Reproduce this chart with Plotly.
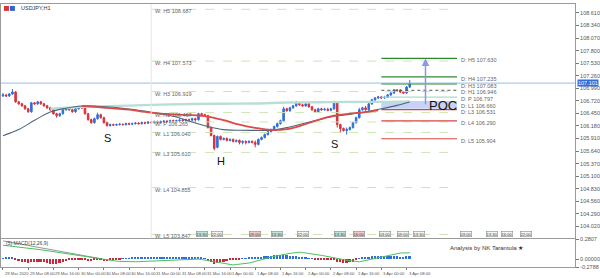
import plotly.graph_objects as go

# ---------------- data ----------------
candle_idx = list(range(130))
open_ = [106.825, 106.846, 106.825, 106.867, 106.910, 106.697, 106.655, 106.612, 106.548, 106.484,
         106.676, 106.655, 106.697, 106.655, 106.612, 106.569, 106.527, 106.442, 106.399, 106.442,
         106.527, 106.569, 106.527, 106.484, 106.548, 106.591, 106.569, 106.442, 106.314, 106.250,
         106.336, 106.421, 106.357, 106.250, 106.187, 106.208, 106.197, 106.208, 106.218, 106.208,
         106.229, 106.218, 106.229, 106.240, 106.229, 106.250, 106.240, 106.261, 106.250, 106.272,
         106.250, 106.272, 106.282, 106.272, 106.293, 106.282, 106.293, 106.304, 106.293, 106.314,
         106.304, 106.336, 106.314, 106.442, 106.421, 106.399, 106.144, 105.974, 105.719, 105.953,
         105.889, 105.910, 105.868, 105.889, 105.847, 105.868, 105.825, 105.847, 105.825, 105.847,
         105.825, 105.783, 105.889, 105.932, 105.995, 106.059, 106.102, 106.166, 106.229, 106.293,
         106.548, 106.506, 106.569, 106.612, 106.676, 106.633, 106.612, 106.655, 106.591, 106.527,
         106.484, 106.548, 106.527, 106.538, 106.516, 106.548, 106.676, 106.208, 106.123, 106.080,
         106.102, 106.144, 106.250, 106.357, 106.527, 106.569, 106.527, 106.655, 106.740, 106.782,
         106.803, 106.782, 106.793, 106.846, 106.888, 106.952, 106.941, 106.910, 106.888, 107.016]
high = [106.888, 106.867, 106.888, 106.973, 106.931, 106.718, 106.676, 106.633, 106.569, 106.697,
        106.697, 106.718, 106.718, 106.676, 106.633, 106.591, 106.548, 106.463, 106.463, 106.548,
        106.591, 106.591, 106.548, 106.569, 106.612, 106.612, 106.591, 106.463, 106.336, 106.357,
        106.463, 106.442, 106.378, 106.272, 106.229, 106.229, 106.229, 106.240, 106.229, 106.250,
        106.250, 106.250, 106.261, 106.261, 106.272, 106.272, 106.282, 106.282, 106.293, 106.293,
        106.293, 106.304, 106.304, 106.314, 106.314, 106.314, 106.336, 106.336, 106.336, 106.336,
        106.357, 106.357, 106.463, 106.463, 106.442, 106.421, 106.166, 105.995, 105.974, 105.974,
        105.932, 105.932, 105.910, 105.910, 105.889, 105.889, 105.868, 105.868, 105.868, 105.868,
        105.868, 105.910, 105.953, 106.016, 106.080, 106.123, 106.187, 106.250, 106.314, 106.591,
        106.569, 106.591, 106.633, 106.718, 106.697, 106.655, 106.676, 106.676, 106.612, 106.548,
        106.569, 106.569, 106.569, 106.569, 106.569, 106.718, 106.697, 106.229, 106.144, 106.144,
        106.166, 106.272, 106.378, 106.569, 106.591, 106.612, 106.676, 106.761, 106.803, 106.825,
        106.825, 106.825, 106.867, 106.910, 106.973, 106.973, 106.973, 106.931, 107.037, 107.165]
low = [106.803, 106.803, 106.803, 106.846, 106.676, 106.633, 106.591, 106.527, 106.463, 106.463,
       106.633, 106.633, 106.633, 106.591, 106.548, 106.506, 106.421, 106.357, 106.378, 106.421,
       106.506, 106.506, 106.463, 106.463, 106.527, 106.548, 106.421, 106.293, 106.229, 106.229,
       106.314, 106.336, 106.229, 106.166, 106.166, 106.187, 106.187, 106.187, 106.187, 106.187,
       106.197, 106.197, 106.208, 106.208, 106.208, 106.218, 106.218, 106.229, 106.229, 106.229,
       106.229, 106.250, 106.250, 106.250, 106.261, 106.261, 106.272, 106.272, 106.272, 106.282,
       106.282, 106.250, 106.293, 106.399, 106.378, 106.123, 105.953, 105.655, 105.698, 105.868,
       105.868, 105.847, 105.847, 105.825, 105.825, 105.783, 105.783, 105.783, 105.804, 105.804,
       105.719, 105.762, 105.868, 105.910, 105.974, 106.038, 106.080, 106.144, 106.208, 106.272,
       106.484, 106.484, 106.548, 106.591, 106.612, 106.591, 106.591, 106.569, 106.506, 106.463,
       106.463, 106.506, 106.506, 106.495, 106.495, 106.527, 106.144, 106.038, 106.059, 105.995,
       106.080, 106.123, 106.229, 106.336, 106.506, 106.506, 106.506, 106.633, 106.718, 106.761,
       106.761, 106.761, 106.782, 106.825, 106.867, 106.910, 106.888, 106.867, 106.867, 106.995]
close = [106.846, 106.825, 106.867, 106.910, 106.697, 106.655, 106.612, 106.548, 106.484, 106.676,
         106.655, 106.697, 106.655, 106.612, 106.569, 106.527, 106.442, 106.399, 106.442, 106.527,
         106.569, 106.527, 106.484, 106.548, 106.591, 106.569, 106.442, 106.314, 106.250, 106.336,
         106.421, 106.357, 106.250, 106.187, 106.208, 106.197, 106.208, 106.218, 106.208, 106.229,
         106.218, 106.229, 106.240, 106.229, 106.250, 106.240, 106.261, 106.250, 106.272, 106.250,
         106.272, 106.282, 106.272, 106.293, 106.282, 106.293, 106.304, 106.293, 106.314, 106.304,
         106.336, 106.314, 106.442, 106.421, 106.399, 106.144, 105.974, 105.698, 105.953, 105.889,
         105.910, 105.868, 105.889, 105.847, 105.868, 105.825, 105.847, 105.825, 105.847, 105.825,
         105.783, 105.889, 105.932, 105.995, 106.059, 106.102, 106.166, 106.229, 106.293, 106.548,
         106.506, 106.569, 106.612, 106.676, 106.633, 106.612, 106.655, 106.591, 106.527, 106.484,
         106.548, 106.527, 106.538, 106.516, 106.548, 106.676, 106.208, 106.123, 106.080, 106.102,
         106.144, 106.250, 106.357, 106.527, 106.569, 106.527, 106.655, 106.740, 106.782, 106.803,
         106.782, 106.793, 106.846, 106.888, 106.952, 106.941, 106.910, 106.888, 107.016, 107.101]

# moving averages (read at selected bars)
ma_slow_idx = [0, 5, 10, 15, 20, 25, 30, 35, 40, 45, 50, 55, 60, 65, 70, 75, 80, 85, 90, 95,
               100, 105, 110, 115, 120, 125, 129]
ma_slow = [105.970, 106.102, 106.300, 106.480, 106.561, 106.608, 106.603, 106.580, 106.544, 106.499,
           106.438, 106.372, 106.263, 106.168, 106.100, 106.087, 106.085, 106.089, 106.144, 106.227,
           106.308, 106.387, 106.429, 106.484, 106.548, 106.622, 106.695]
ma_red_idx = [25, 30, 35, 40, 45, 50, 55, 60, 65, 70, 75, 80, 85, 90, 95, 100, 105, 110, 115, 119]
ma_red = [106.610, 106.584, 106.556, 106.529, 106.480, 106.444, 106.421, 106.412, 106.380, 106.304,
          106.208, 106.140, 106.093, 106.110, 106.197, 106.310, 106.399, 106.442, 106.478, 106.516]
ma_teal_idx = [15, 20, 25, 30, 40, 50, 60, 70, 80, 90, 100, 110, 120, 129]
ma_teal = [106.548, 106.569, 106.589, 106.600, 106.617, 106.638, 106.650, 106.657, 106.663, 106.682,
           106.689, 106.697, 106.697, 106.707]

# MACD pane
macd_hist = [0.01, 0.02, 0.02, 0.02, -0.02, -0.03, -0.04, -0.05, -0.06, -0.05,
             -0.05, -0.04, -0.04, -0.05, -0.06, -0.07, -0.07, -0.07, -0.06, -0.04,
             -0.03, -0.02, -0.02, -0.01, -0.01, -0.01, -0.02, -0.03, -0.03, -0.02,
             -0.02, -0.02, -0.03, -0.03, -0.02, -0.01, -0.01, -0.005, 0.005, 0.01,
             0.01, 0.015, 0.015, 0.02, 0.02, 0.02, 0.025, 0.025, 0.025, 0.03,
             0.03, 0.03, 0.03, 0.03, 0.03, 0.03, 0.03, 0.025, 0.025, 0.02,
             0.02, 0.02, 0.03, 0.02, 0.01, -0.03, -0.05, -0.07, -0.06, -0.05,
             -0.04, -0.03, -0.02, -0.015, -0.01, -0.005, 0.005, 0.01, 0.015, 0.02,
             0.02, 0.025, 0.03, 0.035, 0.04, 0.045, 0.05, 0.05, 0.055, 0.06,
             0.05, 0.045, 0.04, 0.035, 0.03, 0.02, 0.015, 0.01, 0.005, -0.005,
             -0.005, -0.01, -0.01, -0.01, -0.01, -0.005, -0.04, -0.05, -0.06, -0.06,
             -0.05, -0.04, -0.02, 0.01, 0.02, 0.025, 0.03, 0.035, 0.04, 0.04,
             0.04, 0.035, 0.035, 0.04, 0.04, 0.035, 0.03, 0.03, 0.035, 0.04]
macd_signal = [0.197, 0.192, 0.188, 0.185, 0.182, 0.177, 0.171, 0.166, 0.159, 0.153,
               0.146, 0.140, 0.133, 0.126, 0.119, 0.112, 0.107, 0.100, 0.093, 0.087,
               0.080, 0.073, 0.066, 0.055, 0.051, 0.042, 0.034, 0.027, 0.020, 0.013,
               0.006, -0.001, -0.007, -0.013, -0.018, -0.024, -0.029, -0.032, -0.035, -0.038,
               -0.041, -0.041, -0.038, -0.036, -0.034, -0.032, -0.029, -0.027, -0.025, -0.022,
               -0.021, -0.018, -0.015, -0.014, -0.011, -0.010, -0.007, -0.004, -0.003, 0.000,
               0.000, 0.000, 0.000, -0.006, -0.014, -0.024, -0.032, -0.041, -0.049, -0.056,
               -0.065, -0.072, -0.079, -0.083, -0.077, -0.073, -0.067, -0.062, -0.056, -0.045,
               -0.031, -0.018, -0.006, 0.008, 0.020, 0.029, 0.039, 0.049, 0.059, 0.068,
               0.076, 0.081, 0.087, 0.093, 0.098, 0.093, 0.088, 0.084, 0.076, 0.069,
               0.060, 0.053, 0.045, 0.038, 0.029, 0.021, 0.011, 0.003, -0.007, -0.017,
               -0.024, -0.031, -0.036, -0.039, -0.029, -0.020, -0.008, 0.001, 0.010, 0.020,
               0.028, 0.038, 0.049, 0.059, 0.070, 0.081, 0.086, 0.087, 0.088, 0.090]
macd_main = [0.258, 0.250, 0.241, 0.233, 0.225, 0.216, 0.208, 0.199, 0.192, 0.184,
             0.175, 0.167, 0.159, 0.150, 0.143, 0.135, 0.126, 0.118, 0.109, 0.102,
             0.094, 0.086, 0.077, 0.070, 0.062, 0.053, 0.045, 0.037, 0.030, 0.021,
             0.013, 0.006]
macd_max, macd_min = 0.2807, -0.1123
macd_tick_text = ["0.2807", "0.00000", "-0.2788"]

# pivot levels
week_start, day_start, level_end = 47, 120, 144
w_names = ["W: H5", "W: H4", "W: H3", "W: H1", "W: P", "W: L1", "W: L3", "W: L4", "W: L5"]
w_levels = [108.687, 107.573, 106.919, 106.467, 106.265, 106.040, 105.610, 104.855, 103.847]
d_names = ["D: H5", "D: H4", "D: H3", "D: H1", "D: P", "D: L1", "D: L3", "D: L4", "D: L5"]
d_levels = [107.630, 107.235, 107.083, 106.946, 106.797, 106.660, 106.531, 106.290, 105.904]
d_kind = ["up", "up", "up", "dot", "piv", "none", "dn", "dn", "dn"]
poc_top, poc_bottom, poc_level = 106.718, 106.548, 106.612
poc_idx = 134

pattern_idx = [33, 69, 105]
pattern_text = ["S", "H", "S"]

# session time boxes along the bottom of the price pane
session_idx = [63, 68, 80, 87, 95, 107, 113, 121, 127, 132, 147, 155, 160, 166]
session_text = ["13:30", "22:00", "09:00", "13:30", "22:00", "13:30", "16:00", "03:00",
                "09:00", "13:30", "03:00", "13:30", "16:00", "22:00"]
session_kind = ["t", "n", "p", "t", "n", "t", "p", "n", "n", "n", "n", "n", "n", "n"]

price_ticks = [104.020, 104.290, 104.560, 104.830, 105.100, 105.370, 105.640, 105.910, 106.180,
               106.450, 106.720, 106.990, 107.260, 107.530, 107.800, 108.070, 108.340, 108.610]
time_tick_idx = [0, 8, 16, 24, 32, 40, 48, 56, 64, 72, 80, 88, 96, 104, 112, 120, 128]
time_labels = ["29 Mar 2020", "29 Mar 08:00", "29 Mar 16:00", "30 Mar 00:00", "30 Mar 08:00",
               "30 Mar 16:00", "31 Mar 00:00", "31 Mar 08:00", "31 Mar 16:00", "1 Apr 00:00",
               "1 Apr 08:00", "1 Apr 16:00", "2 Apr 00:00", "2 Apr 08:00", "2 Apr 16:00",
               "3 Apr 00:00", "3 Apr 08:00"]

# ---------------- styling / geometry ----------------
W, H = 600, 278
ML, MR, MT, MB = 0, 22, 0, 10
PH = H - MT - MB  # 268
BAR_PX, X0_PX = 3.175, 2.0
x_min = -X0_PX / BAR_PX
x_max = (W - MR - ML - X0_PX) / BAR_PX
MAIN_TOP, MAIN_BOT = 1, 238
SUB_TOP, SUB_BOT = 239, 267
PX_PER_YEN = 47.04
price_hi = 108.610 + (10 - MAIN_TOP) / PX_PER_YEN
price_lo = price_hi - (MAIN_BOT - MAIN_TOP) / PX_PER_YEN


def py(Y):
    return (H - MB - Y) / PH


def px(X):
    return (X - ML) / (W - ML - MR)


BLUE, RED = "#2f6fdc", "#d9323c"
FONT = "Liberation Sans"

fig = go.Figure()

# weekly levels (dashed pale green)
for nm, lv in zip(w_names, w_levels):
    fig.add_trace(go.Scatter(x=[week_start, level_end], y=[lv, lv], mode="lines",
                             line=dict(color="#cfe5b4", width=1, dash="dash"),
                             hoverinfo="skip", showlegend=False))

# POC zone
fig.add_shape(type="rect", x0=day_start, x1=level_end, y0=poc_bottom, y1=poc_top,
              xref="x", yref="y", fillcolor="#c8d2f6", line=dict(width=0), layer="below")

# daily levels
for nm, lv, k in zip(d_names, d_levels, d_kind):
    if k == "up":
        ln = dict(color="#2f8a2f", width=1.2)
    elif k == "dn":
        ln = dict(color="#d64545", width=1.2)
    elif k == "dot":
        ln = dict(color="#555555", width=1, dash="dot")
    elif k == "piv":
        ln = dict(color="#a9dccf", width=1.2)
    else:
        continue
    fig.add_trace(go.Scatter(x=[day_start, level_end], y=[lv, lv], mode="lines", line=ln,
                             hoverinfo="skip", showlegend=False))

# current price line
fig.add_trace(go.Scatter(x=[x_min, x_max], y=[close[-1], close[-1]], mode="lines",
                         line=dict(color="#93bfe6", width=1), hoverinfo="skip", showlegend=False))

# moving averages
fig.add_trace(go.Scatter(x=ma_teal_idx, y=ma_teal, mode="lines", line=dict(color="#b8dfd5", width=2.4, shape="spline"),
                         hoverinfo="skip", showlegend=False))
fig.add_trace(go.Scatter(x=ma_slow_idx, y=ma_slow, mode="lines", line=dict(color="#4d657c", width=1.1, shape="spline"),
                         hoverinfo="skip", showlegend=False))
fig.add_trace(go.Scatter(x=ma_red_idx, y=ma_red, mode="lines", line=dict(color="#dc4a4a", width=1.8, shape="spline"),
                         hoverinfo="skip", showlegend=False))

# candles
fig.add_trace(go.Candlestick(x=candle_idx, open=open_, high=high, low=low, close=close,
                             increasing=dict(line=dict(color=BLUE, width=1), fillcolor=BLUE),
                             decreasing=dict(line=dict(color=RED, width=1), fillcolor=RED),
                             whiskerwidth=0, showlegend=False, hoverinfo="skip"))

# MACD pane
fig.add_trace(go.Bar(x=candle_idx, y=macd_hist, xaxis="x2", yaxis="y2", width=0.55,
                     marker=dict(color=[BLUE if v >= 0 else "#c8283a" for v in macd_hist], line=dict(width=0)),
                     showlegend=False, hoverinfo="skip"))
fig.add_trace(go.Scatter(x=candle_idx[:len(macd_main)], y=macd_main, xaxis="x2", yaxis="y2", mode="lines",
                         line=dict(color="#6f7f8f", width=0.8), showlegend=False, hoverinfo="skip"))
fig.add_trace(go.Scatter(x=candle_idx, y=macd_signal, xaxis="x2", yaxis="y2", mode="lines",
                         line=dict(color="#4cbf5a", width=1), showlegend=False, hoverinfo="skip"))

shapes = [
    dict(type="line", xref="x", yref="paper", x0=day_start, x1=day_start, y0=0, y1=1,
         line=dict(color="#f2b53c", width=1.5)),
    dict(type="line", xref="x", yref="y domain", x0=week_start, x1=week_start, y0=0, y1=1,
         line=dict(color="#e6e6e6", width=1)),
    # chart symbol icon
    dict(type="rect", xref="paper", yref="paper", x0=px(3), x1=px(8), y0=py(8), y1=py(3),
         fillcolor="#d33", line=dict(width=0)),
    dict(type="rect", xref="paper", yref="paper", x0=px(9), x1=px(14), y0=py(8), y1=py(3),
         fillcolor="#3366cc", line=dict(width=0)),
]

ann = []
small = dict(family=FONT, size=5.5, color="#666666")
for nm, lv in zip(w_names, w_levels):
    ann.append(dict(x=week_start, y=lv, xref="x", yref="y", text=f"{nm} {lv:.3f}", showarrow=False,
                    xanchor="left", yanchor="middle", xshift=2, yshift=-2, font=small))
for nm, lv in zip(d_names, d_levels):
    ann.append(dict(x=level_end, y=lv, xref="x", yref="y", text=f"{nm} {lv:.3f}", showarrow=False,
                    xanchor="left", yanchor="middle", xshift=2, yshift=-2, font=small))
# arrow from POC to target
ann.append(dict(x=poc_idx, y=d_levels[0], ax=poc_idx, ay=poc_level, xref="x", yref="y",
                axref="x", ayref="y", text="", showarrow=True, arrowhead=2, arrowsize=1,
                arrowwidth=1.5, arrowcolor="#8a98e6"))
ann.append(dict(x=poc_idx, y=poc_level, xref="x", yref="y", text="POC", showarrow=False,
                xanchor="left", yanchor="middle", xshift=2,
                font=dict(family=FONT, size=13, color="#111111")))
for i, t in zip(pattern_idx, pattern_text):
    ann.append(dict(x=i, y=min(low[i - 3:i + 4]), xref="x", yref="y", text=t, showarrow=False,
                    xanchor="center", yanchor="top", yshift=-3,
                    font=dict(family=FONT, size=11, color="#111111")))
# session boxes
for i, t, k in zip(session_idx, session_text, session_kind):
    bg = {"t": "#bfe4dc", "p": "#f4c8cf", "n": "#f4f4f4"}[k]
    ann.append(dict(x=i, y=py(234), xref="x", yref="paper", text=t, showarrow=False,
                    xanchor="center", yanchor="middle", bgcolor=bg, bordercolor="#8a8a8a",
                    borderwidth=0.6, borderpad=0, font=dict(family=FONT, size=4, color="#333333")))
# last price tag
ann.append(dict(x=1, y=close[-1], xref="paper", yref="y", text=f"{close[-1]:.3f}", showarrow=False,
                xanchor="left", yanchor="middle", xshift=2, bgcolor="#2f6fdc",
                font=dict(family=FONT, size=5.5, color="white"), borderpad=0))
# time labels
for i, t in zip(time_tick_idx, time_labels):
    ann.append(dict(x=i, y=py(268), xref="x2", yref="paper", text=t, showarrow=False,
                    xanchor="left", yanchor="top", xshift=0, yshift=-1,
                    font=dict(family=FONT, size=4.2, color="#555555")))
ann.append(dict(x=px(18), y=py(5), xref="paper", yref="paper", text="USDJPY,H1", showarrow=False,
                xanchor="left", yanchor="middle", font=dict(family=FONT, size=5.5, color="#333333")))
ann.append(dict(x=px(3), y=py(243), xref="paper", yref="paper", text="(5) MACD(12,26,9)", showarrow=False,
                xanchor="left", yanchor="middle", font=dict(family=FONT, size=5, color="#444444")))
ann.append(dict(x=px(450), y=py(248), xref="paper", yref="paper", text="Analysis by NK Tarantula \u2605",
                showarrow=False, xanchor="left", yanchor="middle",
                font=dict(family=FONT, size=6, color="#333333")))

fig.update_layout(
    width=W, height=H, margin=dict(l=ML, r=MR, t=MT, b=MB),
    paper_bgcolor="white", plot_bgcolor="white", showlegend=False,
    bargap=0, shapes=shapes, annotations=ann,
    xaxis=dict(domain=[0, 1], range=[x_min, x_max], anchor="y", showticklabels=False, showgrid=False,
               zeroline=False, showline=True, mirror=True, linecolor="#9a9a9a", linewidth=1,
               rangeslider=dict(visible=False), fixedrange=True),
    xaxis2=dict(domain=[0, 1], range=[x_min, x_max], anchor="y2", matches="x", showgrid=False,
                zeroline=False, showline=True, mirror=True, linecolor="#9a9a9a", linewidth=1,
                tickvals=time_tick_idx, ticks="outside", ticklen=2, tickcolor="#777777",
                showticklabels=False),
    yaxis=dict(domain=[py(MAIN_BOT), py(MAIN_TOP)], range=[price_lo, price_hi], side="right",
               tickvals=price_ticks, ticktext=[f"{v:.3f}" for v in price_ticks], ticks="outside",
               ticklen=3, tickcolor="#777777", tickfont=dict(family=FONT, size=5.5, color="#555555"),
               showgrid=False, zeroline=False, showline=True, mirror=True, linecolor="#9a9a9a"),
    yaxis2=dict(domain=[py(SUB_BOT), py(SUB_TOP)], range=[macd_min, macd_max], side="right",
                tickvals=[macd_max, 0, macd_min], ticktext=macd_tick_text, ticks="outside",
                ticklen=3, tickcolor="#777777", tickfont=dict(family=FONT, size=5.5, color="#555555"),
                showgrid=False, zeroline=False, showline=True, mirror=True, linecolor="#9a9a9a"),
)

fig.write_html("out.html")
